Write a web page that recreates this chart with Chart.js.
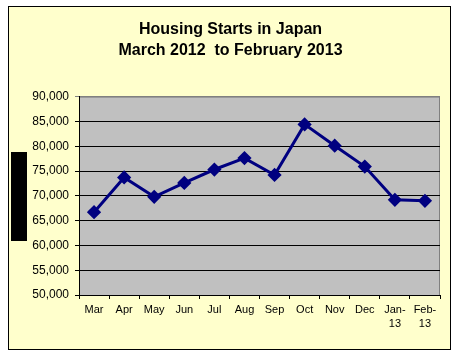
<!DOCTYPE html>
<html>
<head>
<meta charset="utf-8">
<script src="https://cdn.jsdelivr.net/npm/chart.js@4"></script>
<style>
    body { margin: 0; background: #ffffff; }
    #frame {
        position: absolute; left: 8px; top: 6px;
        width: 441px; height: 342px;
        border: 1px solid #000000;
        background: #ffffcc;
    }
    #blackout {
        position: absolute; left: 11px; top: 152px;
        width: 16px; height: 89px;
        background: #000000;
    }
</style>
</head>
<body>
<div id="frame"><canvas id="startsChart" width="441" height="342"></canvas></div>
<div id="blackout"></div>
<script>
// Monthly housing starts, March 2012 - February 2013
const months = ['Mar', 'Apr', 'May', 'Jun', 'Jul', 'Aug', 'Sep', 'Oct', 'Nov', 'Dec', ['Jan-', '13'], ['Feb-', '13']];
const starts = [66700, 73700, 69800, 72600, 75300, 77600, 74200, 84400, 80100, 75900, 69200, 69000];
const titleLines = ['Housing Starts in Japan', 'March 2012  to February 2013'];

// Gray plot area with a gray outline, like the spreadsheet original
const plotBackground = {
    id: 'plotBackground',
    beforeDraw(chart) {
        const { ctx, chartArea: a } = chart;
        ctx.save();
        ctx.fillStyle = '#c0c0c0';
        ctx.fillRect(a.left, a.top, a.right - a.left, a.bottom - a.top);
        ctx.strokeStyle = '#808080';
        ctx.lineWidth = 1;
        ctx.strokeRect(a.left + 0.5, a.top + 0.5, a.right - a.left - 1, a.bottom - a.top);
        ctx.restore();
    }
};

new Chart(document.getElementById('startsChart'), {
    type: 'line',
    data: {
        labels: months,
        datasets: [{
            data: starts,
            borderColor: '#000080',
            backgroundColor: '#000080',
            borderWidth: 3,
            tension: 0,
            pointStyle: 'rectRot',
            pointRadius: 5,
            pointBackgroundColor: '#000080',
            pointBorderColor: '#000080'
        }]
    },
    options: {
        responsive: false,
        animation: false,
        layout: { padding: { left: 12, right: 10, top: 0, bottom: 0 } },
        plugins: {
            legend: { display: false },
            tooltip: { enabled: false },
            title: {
                display: true,
                text: titleLines,
                color: '#000000',
                font: { family: 'Liberation Sans, Arial, sans-serif', size: 16, weight: 'bold', lineHeight: 1.3 },
                padding: { top: 12, bottom: 36 }
            }
        },
        scales: {
            x: {
                offset: true,
                grid: {
                    offset: true,
                    drawOnChartArea: false,
                    tickLength: 4,
                    color: '#000000'
                },
                border: { color: '#000000', width: 1 },
                ticks: {
                    autoSkip: false,
                    maxRotation: 0,
                    padding: 4,
                    color: '#000000',
                    font: { family: 'Liberation Sans, Arial, sans-serif', size: 11, lineHeight: 1.25 }
                },
                afterFit: scale => { scale.height = 54; }
            },
            y: {
                min: 50000,
                max: 90000,
                grid: {
                    tickLength: 4,
                    color: ctx => ctx.tick && ctx.tick.value === 90000 ? '#808080' : '#000000'
                },
                border: { color: '#000000', width: 1 },
                ticks: {
                    stepSize: 5000,
                    padding: 6,
                    color: '#000000',
                    font: { family: 'Liberation Sans, Arial, sans-serif', size: 12 },
                    callback: value => value.toLocaleString('en-US')
                },
                afterFit: scale => { scale.width = 58; }
            }
        }
    },
    plugins: [plotBackground]
});
</script>
</body>
</html>
